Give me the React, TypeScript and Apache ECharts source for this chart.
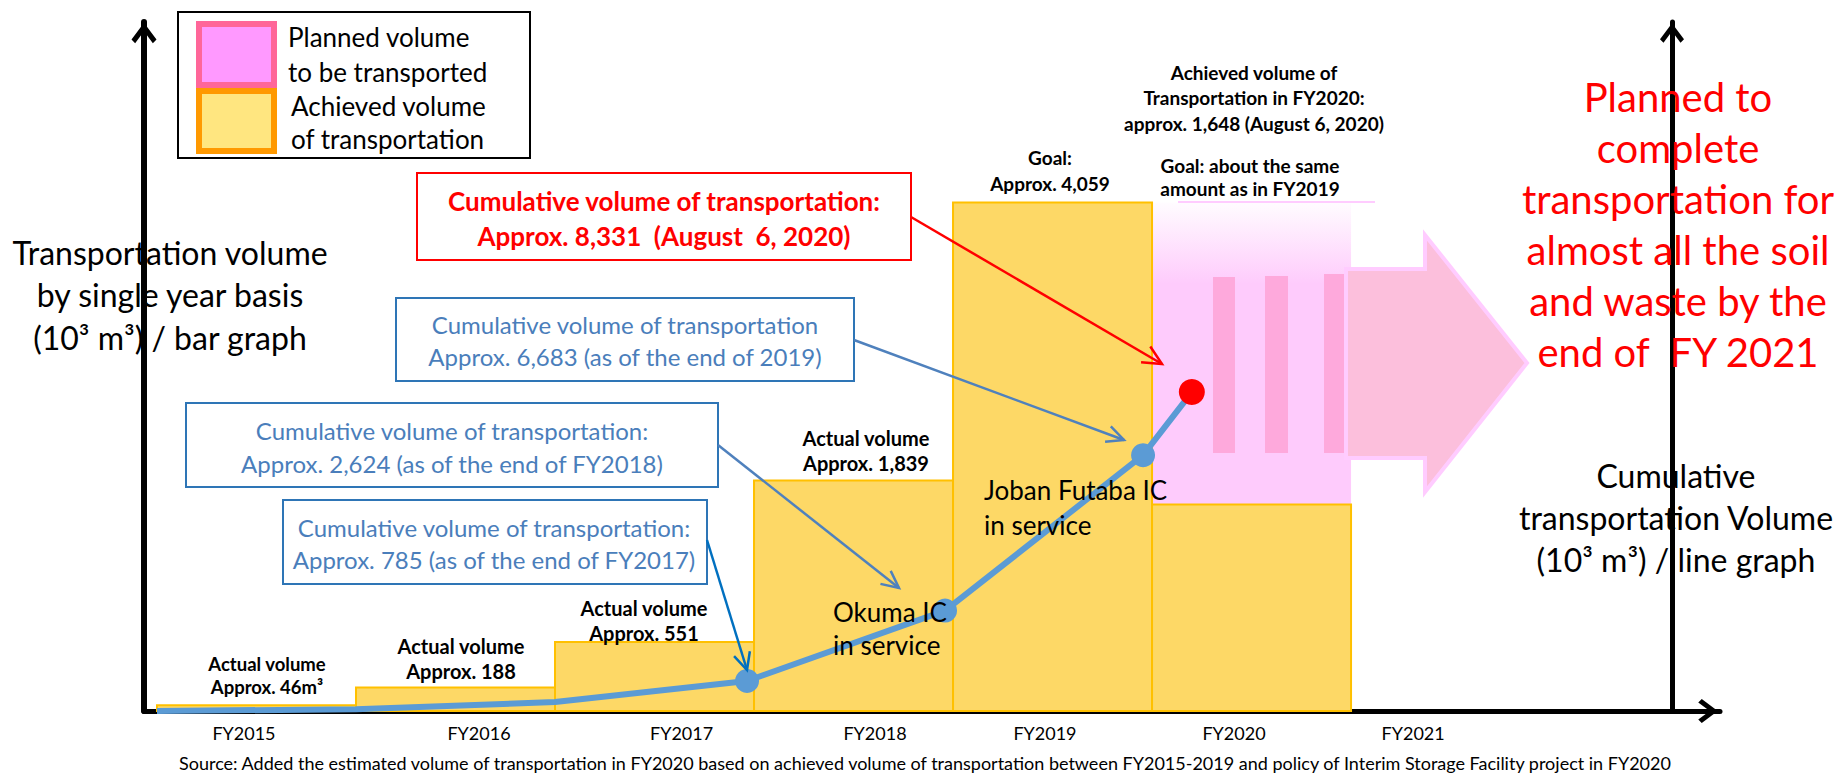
import React, { useEffect, useRef } from "react";
import * as echarts from "echarts";

// ---------- data ----------
const fiscalYears = ["FY2015", "FY2016", "FY2017", "FY2018", "FY2019", "FY2020", "FY2021"];
// where each fiscal-year tick label sits on the year axis (1 unit = 1 fiscal year, FY2015 starts at 0)
const fyLabelPos = [0.437, 1.618, 2.636, 3.608, 4.462, 5.412, 6.312];
// single-year achieved volume (10^3 m3); bar i spans [i, i+1]
const achievedVolume = [46, 188, 551, 1839, 4059, 1648];
// planned volume for FY2020 (goal: about the same as FY2019)
const plannedVolume = [null, null, null, null, null, 4059];
// cumulative transported volume (10^3 m3)
const cumulativeX = [0, 1, 2, 2.965, 3.96, 4.955, 5.2];
const cumulativeY = [0, 46, 234, 785, 2624, 6683, 8331];
const cumulativeMarker = ["none", "none", "none", "blue", "blue", "blue", "red"];

const FONT = 'Lato, "Noto Sans", "DejaVu Sans", sans-serif';

type TOpts = { bold?: boolean; align?: string; z?: number };
function txt(text: string, x: number, y: number, size: number, color: string, o: TOpts = {}) {
  return {
    type: "text",
    z: o.z ?? 30,
    style: {
      text,
      x,
      y,
      fill: color,
      fontSize: size,
      fontFamily: FONT,
      fontWeight: o.bold ? "bold" : "normal",
      align: o.align || "center",
      verticalAlign: "middle",
    },
  };
}
function lines(arr: string[], x: number, y0: number, dy: number, size: number, color: string, o: TOpts = {}) {
  return arr.map((t, i) => txt(t, x, y0 + i * dy, size, color, o));
}
function arrow(x1: number, y1: number, x2: number, y2: number, color: string, w: number, len: number) {
  const ang = Math.atan2(y2 - y1, x2 - x1);
  const a1 = ang + Math.PI - 0.45;
  const a2 = ang + Math.PI + 0.45;
  return [
    { type: "line", z: 20, shape: { x1, y1, x2, y2 }, style: { stroke: color, lineWidth: w } },
    {
      type: "polyline",
      z: 20,
      shape: {
        points: [
          [x2 + len * Math.cos(a1), y2 + len * Math.sin(a1)],
          [x2, y2],
          [x2 + len * Math.cos(a2), y2 + len * Math.sin(a2)],
        ],
      },
      style: { stroke: color, lineWidth: w, fill: "none" },
    },
  ];
}
function box(x: number, y: number, w: number, h: number, stroke: string) {
  return { type: "rect", z: 18, shape: { x, y, width: w, height: h }, style: { fill: "#ffffff", stroke, lineWidth: 2 } };
}

const CHEVRON = "path://M0,16 L12,0 L24,16 L20.5,19.5 L12,8 L3.5,19.5 Z";

export default function App() {
  const ref = useRef<HTMLDivElement>(null);
  useEffect(() => {
    if (!ref.current) return;
    const chart = echarts.init(ref.current, undefined, { renderer: "svg" });

    const barRender = (fill: any, stroke: string | null) => (params: any, api: any) => {
      const x0 = api.value(0);
      const x1 = api.value(1);
      const v = api.value(2);
      const p0 = api.coord([x0, v]);
      const p1 = api.coord([x1, 0]);
      return {
        type: "rect",
        shape: { x: p0[0], y: p0[1], width: p1[0] - p0[0], height: p1[1] - p0[1] },
        style: stroke ? { fill, stroke, lineWidth: 2 } : { fill },
      };
    };

    const pinkGrad = {
      type: "linear",
      x: 0,
      y: 0,
      x2: 0,
      y2: 1,
      colorStops: [
        { offset: 0, color: "#fffcff" },
        { offset: 0.16, color: "#fecbfc" },
        { offset: 1, color: "#fecbfc" },
      ],
    };

    const blueText = "#4a7ebb";
    const graphics: any[] = [
      // legend
      { type: "rect", z: 18, shape: { x: 178, y: 12, width: 352, height: 146 }, style: { fill: "#fff", stroke: "#000", lineWidth: 2 } },
      { type: "rect", z: 19, shape: { x: 199, y: 24, width: 75, height: 61 }, style: { fill: "#ff99ff", stroke: "#ff6699", lineWidth: 6 } },
      { type: "rect", z: 19, shape: { x: 199, y: 91, width: 75, height: 60 }, style: { fill: "#ffe680", stroke: "#ff9900", lineWidth: 6 } },
      ...lines(["Planned volume", "to be transported"], 288, 37, 35, 26, "#000", { align: "left" }),
      ...lines(["Achieved volume", "of transportation"], 291, 106, 33, 26, "#000", { align: "left" }),

      // decorative planned-transport arrow with stripes
      { type: "line", z: 3, shape: { x1: 1178, y1: 202, x2: 1375, y2: 202 }, style: { stroke: "#ffccff", lineWidth: 2 } },
      { type: "rect", z: 3, shape: { x: 1213, y: 277, width: 22, height: 176 }, style: { fill: "#fea9dc" } },
      { type: "rect", z: 3, shape: { x: 1265, y: 276, width: 23, height: 177 }, style: { fill: "#fea9dc" } },
      { type: "rect", z: 3, shape: { x: 1324, y: 274, width: 22, height: 179 }, style: { fill: "#fea9dc" } },
      {
        type: "polygon",
        z: 3,
        shape: { points: [[1346, 269], [1425, 269], [1425, 235], [1527, 363], [1425, 492], [1425, 458], [1346, 458]] },
        style: { fill: "#fcbfdc", stroke: "#ffccff", lineWidth: 4 },
      },

      // axis titles
      ...lines(["Transportation volume", "by single year basis", "(10³ m³) / bar graph"], 170, 252, 42.5, 32, "#000"),
      ...lines(["Cumulative", "transportation Volume", "(10³ m³) / line graph"], 1676, 475, 42, 32, "#000"),
      ...lines(
        ["Planned to", "complete", "transportation for", "almost all the soil", "and waste by the", "end of  FY 2021"],
        1678, 97, 51, 40, "#ff0000"
      ),

      // bar labels
      ...lines(["Actual volume", "Approx. 46m³"], 267, 664, 23, 18.5, "#000", { bold: true }),
      ...lines(["Actual volume", "Approx. 188"], 461, 646, 25, 20, "#000", { bold: true }),
      ...lines(["Actual volume", "Approx. 551"], 644, 608, 25, 20, "#000", { bold: true }),
      ...lines(["Actual volume", "Approx. 1,839"], 866, 438, 25, 20, "#000", { bold: true }),
      ...lines(["Goal:", "Approx. 4,059"], 1050, 157, 26, 19, "#000", { bold: true }),
      ...lines(["Achieved volume of", "Transportation in FY2020:", "approx. 1,648 (August 6, 2020)"], 1254, 72, 25.5, 19, "#000", { bold: true }),
      ...lines(["Goal: about the same", "amount as in FY2019"], 1250, 165, 23, 19, "#000", { bold: true }),

      // IC labels
      ...lines(["Okuma IC", "in service"], 833, 612, 33, 26, "#000", { align: "left" }),
      ...lines(["Joban Futaba IC", "in service"], 984, 490, 35, 26, "#000", { align: "left" }),

      // callout boxes
      box(417, 173, 494, 87, "#ff0000"),
      ...lines(["Cumulative volume of transportation:", "Approx. 8,331  (August  6, 2020)"], 664, 201, 35, 26, "#ff0000", { bold: true }),
      box(396, 298, 458, 83, "#2e75b6"),
      ...lines(["Cumulative volume of transportation", "Approx. 6,683 (as of the end of 2019)"], 625, 324, 32, 24, blueText),
      box(186, 403, 532, 84, "#2e75b6"),
      ...lines(["Cumulative volume of transportation:", "Approx. 2,624 (as of the end of FY2018)"], 452, 430, 33, 24, blueText),
      box(283, 500, 424, 84, "#2e75b6"),
      ...lines(["Cumulative volume of transportation:", "Approx. 785 (as of the end of FY2017)"], 494, 527, 32, 24, blueText),

      // callout arrows
      ...arrow(911, 217, 1162, 364, "#ff0000", 2.5, 21),
      ...arrow(854, 340, 1124, 440, "#4f81bd", 2.5, 19),
      ...arrow(718, 445, 899, 588, "#4f81bd", 2.5, 19),
      ...arrow(707, 540, 747, 670, "#0070c0", 2.5, 19),

      // source
      txt(
        "Source: Added the estimated volume of transportation in FY2020 based on achieved volume of transportation between FY2015-2019 and policy of Interim Storage Facility project in FY2020",
        925, 763, 18, "#000"
      ),
    ];

    const option: any = {
      animation: false,
      backgroundColor: "#ffffff",
      grid: { left: 144, right: 117, top: 22, bottom: 62, containLabel: false, outerBoundsMode: "none" },
      xAxis: {
        type: "value",
        min: -0.0653,
        max: 7.854,
        splitLine: { show: false },
        axisTick: { show: false },
        axisLine: {
          show: true,
          onZero: false,
          lineStyle: { color: "#000", width: 5 },
          symbol: ["none", CHEVRON],
          symbolSize: [24, 24],
          symbolOffset: [0, -12],
        },
        axisLabel: {
          customValues: fyLabelPos,
          margin: 13,
          fontSize: 18,
          color: "#000",
          fontFamily: FONT,
          formatter: (v: number) => {
            let best = 0;
            fyLabelPos.forEach((p, i) => {
              if (Math.abs(p - v) < Math.abs(fyLabelPos[best] - v)) best = i;
            });
            return fiscalYears[best];
          },
        },
      },
      yAxis: [
        {
          type: "value",
          min: 0,
          max: 5500,
          position: "left",
          splitLine: { show: false },
          axisTick: { show: false },
          axisLabel: { show: false },
          axisLine: {
            show: true,
            onZero: false,
            lineStyle: { color: "#000", width: 6 },
            symbol: ["none", CHEVRON],
            symbolSize: [25, 22],
            symbolOffset: [0, -11],
          },
        },
        {
          type: "value",
          min: 0,
          max: 18000,
          position: "right",
          offset: -48,
          splitLine: { show: false },
          axisTick: { show: false },
          axisLabel: { show: false },
          axisLine: {
            show: true,
            onZero: false,
            lineStyle: { color: "#000", width: 5 },
            symbol: ["none", CHEVRON],
            symbolSize: [24, 22],
            symbolOffset: [0, -11],
          },
        },
      ],
      series: [
        {
          type: "custom",
          name: "Planned volume to be transported",
          z: 1,
          renderItem: barRender(pinkGrad, null),
          encode: { x: [0, 1], y: 2 },
          data: plannedVolume
            .map((v, i) => (v == null ? null : [i, i + 1, v]))
            .filter((d) => d != null),
        },
        {
          type: "custom",
          name: "Achieved volume of transportation",
          z: 1,
          renderItem: barRender("#fdd866", "#ffc000"),
          encode: { x: [0, 1], y: 2 },
          data: achievedVolume.map((v, i) => [i, i + 1, v]),
        },
        {
          type: "line",
          name: "Cumulative volume",
          yAxisIndex: 1,
          z: 6,
          showAllSymbol: true,
          lineStyle: { color: "#5b9bd5", width: 6 },
          itemStyle: { color: "#5b9bd5", borderWidth: 0 },
          data: cumulativeX.map((x, i) => {
            const m = cumulativeMarker[i];
            return {
              value: [x, cumulativeY[i]],
              symbol: m === "none" ? "none" : "circle",
              symbolSize: m === "red" ? 26 : 24,
              itemStyle: { color: m === "red" ? "#ff0000" : "#5b9bd5", borderWidth: 0 },
            };
          }),
        },
      ],
      graphic: { elements: graphics },
    };

    chart.setOption(option);
    return () => chart.dispose();
  }, []);

  return (
    <div
      ref={ref}
      style={{ position: "fixed", left: 0, top: 0, width: 1837, height: 773, background: "#fff" }}
    />
  );
}
